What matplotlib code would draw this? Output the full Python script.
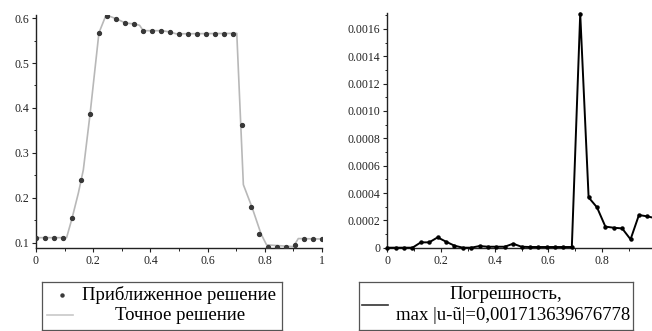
import matplotlib.pyplot as plt
from matplotlib.ticker import AutoMinorLocator, MultipleLocator
from matplotlib.lines import Line2D
import numpy as np

plt.rcParams['font.family'] = ['Liberation Serif', 'DejaVu Serif']

# approximate solution on the grid x = i/32
n_nodes = 33
u_approx = [0.111, 0.111, 0.111, 0.111, 0.154, 0.240, 0.386, 0.567, 0.605,
            0.598, 0.589, 0.587, 0.572, 0.572, 0.572, 0.569, 0.565, 0.565,
            0.565, 0.565, 0.565, 0.565, 0.565, 0.362, 0.179, 0.119, 0.091,
            0.091, 0.091, 0.095, 0.108, 0.108, 0.108]

x_exact = [0.0, 0.107, 0.126, 0.148, 0.1655, 0.189, 0.22, 0.245, 0.283, 0.3125,
           0.344, 0.362, 0.375, 0.44, 0.469, 0.49, 0.702, 0.725, 0.755, 0.787,
           0.806, 0.90, 0.917, 1.0]
u_exact = [0.111, 0.111, 0.154, 0.210, 0.262, 0.386, 0.567, 0.607, 0.598, 0.589,
           0.587, 0.584, 0.572, 0.572, 0.569, 0.565, 0.566, 0.229, 0.179, 0.119,
           0.095, 0.091, 0.109, 0.108]

# error |u - u~| on the same grid
err = [0.0, 0.0, 0.0, 0.0, 0.000039, 0.000039, 0.0000756, 0.000044, 0.000015,
       0.0, 0.0, 0.000012, 0.000007, 0.000007, 0.000007, 0.000029, 0.000007,
       0.000005, 0.000005, 0.000005, 0.000005, 0.000005, 0.000005, 0.001713,
       0.000368, 0.000295, 0.000154, 0.000146, 0.000141, 0.000061, 0.000239,
       0.000229, 0.000215]

x_nodes = np.arange(n_nodes) / (n_nodes - 1)

fig = plt.figure(figsize=(6.52, 3.31), dpi=100)


def style_axes(ax):
    for s in ['top', 'right']:
        ax.spines[s].set_visible(False)
    for s in ['left', 'bottom']:
        ax.spines[s].set_color('#222222')
        ax.spines[s].set_linewidth(1.0)
    ax.xaxis.set_minor_locator(AutoMinorLocator(2))
    ax.yaxis.set_minor_locator(AutoMinorLocator(2))
    ax.tick_params(which='major', direction='out', length=3, width=0.8,
                   labelsize=8.5, pad=2, colors='#222222')
    ax.tick_params(which='minor', direction='out', length=1.8, width=0.7,
                   colors='#222222')


ax1 = fig.add_axes([0.0552, 0.2508, 0.4387, 0.704])
ax1.plot(x_exact, u_exact, color='#b8b8b8', lw=1.2, zorder=2)
ax1.plot(x_nodes, u_approx, ls='none', marker='o', ms=2.8, color='#383838', zorder=3)
ax1.set_xlim(0, 1)
ax1.set_ylim(0.088, 0.607)
ax1.set_xticks([0, 0.2, 0.4, 0.6, 0.8, 1.0])
ax1.set_xticklabels(['0', '0.2', '0.4', '0.6', '0.8', '1'])
ax1.yaxis.set_major_locator(MultipleLocator(0.1))
style_axes(ax1)

ax2 = fig.add_axes([0.594, 0.2517, 0.4117, 0.7083])
ax2.plot(x_nodes, err, color='black', lw=1.4, marker='o', ms=2.2, zorder=3,
         clip_on=False)
ax2.set_xlim(0, 1)
ax2.set_ylim(0, 0.001715)
ax2.set_xticks([0, 0.2, 0.4, 0.6, 0.8])
ax2.set_xticklabels(['0', '0.2', '0.4', '0.6', '0.8'])
ax2.yaxis.set_major_locator(MultipleLocator(0.0002))
ax2.yaxis.set_major_formatter(lambda v, p: '0' if v == 0 else f'{v:.4f}')
style_axes(ax2)

# legend boxes
fs = 13.5


def legend_box(rect):
    lg = fig.add_axes(rect)
    lg.set_xlim(0, 1)
    lg.set_ylim(0, 1)
    lg.set_xticks([])
    lg.set_yticks([])
    for s in lg.spines.values():
        s.set_color('#555555')
        s.set_linewidth(0.9)
    return lg


lg1 = legend_box([42 / 652, 1 - 330 / 331, 240 / 652, 48 / 331])
lg1.add_line(Line2D([0.085], [0.73], ls='none', marker='o', ms=2.2, color='#3a3a3a'))
lg1.add_line(Line2D([0.02, 0.13], [0.31, 0.31], color='#c8c8c8', lw=1.2))
lg1.text(0.569, 0.73, 'Приближенное решение', ha='center', va='center', fontsize=fs)
lg1.text(0.575, 0.31, 'Точное решение', ha='center', va='center', fontsize=fs)

lg2 = legend_box([359 / 652, 1 - 330 / 331, 274 / 652, 48 / 331])
lg2.add_line(Line2D([0.01, 0.105], [0.52, 0.52], color='#333333', lw=1.2))
lg2.text(0.536, 0.73, 'Погрешность,', ha='center', va='center', fontsize=fs)
lg2.text(0.562, 0.31, 'max |u-ũ|=0,001713639676778', ha='center', va='center',
         fontsize=fs)

fig.savefig('out.png', dpi=100)
